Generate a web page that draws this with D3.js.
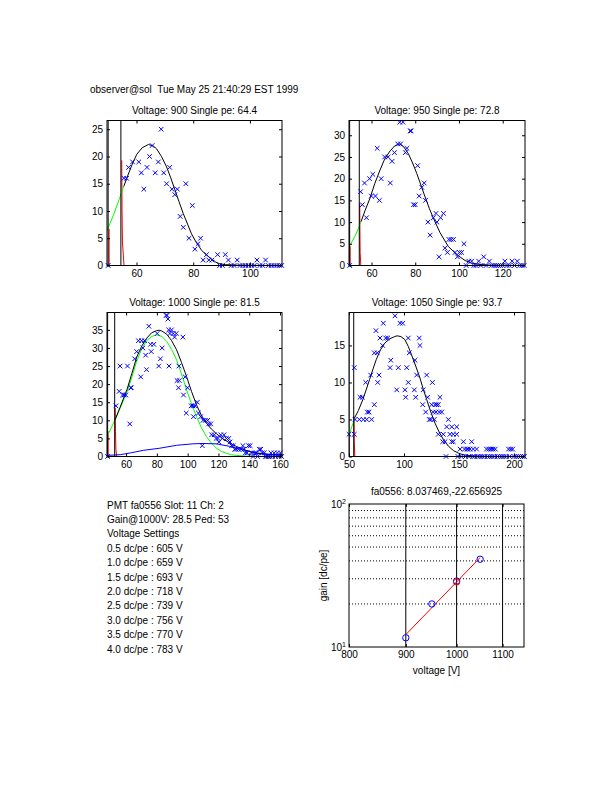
<!DOCTYPE html>
<html>
<head>
<meta charset="utf-8">
<script src="https://cdn.jsdelivr.net/npm/d3@7"></script>
<style>
  body { margin: 0; background: #fff; }
  svg { font-family: "Liberation Sans", Arial, Helvetica, sans-serif; font-size: 10px; }
</style>
</head>
<body>
<div id="chart"></div>
<script>
// ---- data ----
const headerText = "observer@sol  Tue May 25 21:40:29 EST 1999";
const titles = [
  "Voltage: 900 Single pe: 64.4",
  "Voltage: 950 Single pe: 72.8",
  "Voltage: 1000 Single pe: 81.5",
  "Voltage: 1050 Single pe: 93.7"
];

// histograms [adc, counts]
const hist900 = [[50,0],[55.6,16],[56.5,16],[57.2,18],[58.6,19],[60.8,19],[61.7,17],[62.6,14],[63.7,18],[64.6,20],
  [65.5,22],[66.6,17],[67.7,19],[68.7,25],[69.6,17],[70.6,15],[71.7,18],[72.5,14],[73.5,13],[74.4,14],[75.4,9],
  [76.5,7],[77.4,15],[78.5,5],[79.7,11],[80.6,3],[81.7,4],[82.6,5],[83.5,1],[84.7,2],[85.5,1],[86.6,1],[88.6,2],
  [89.3,0],[90.3,0],[91.3,2],[92.4,1],[93.4,0],[94.4,0],[95.5,1],[96.5,0],[97.5,0],[98.5,0],[99.5,0],[100.5,0],
  [101.5,0],[102.5,1],[103.5,0],[104.5,0],[105.5,1],[106.5,0],[107.5,0],[108.5,0],[109.5,0],[110.5,0],[111.2,0]];
const hist950 = [[50,0],[55,17],[55.8,14],[56.8,19],[57.7,11],[59.1,20],[59.9,16],[60.6,21],[61.8,16],[62.6,27],
  [63.6,15],[64.4,20],[66,25],[67.6,25],[68.6,19],[69.4,24],[70.5,26],[72,28],[72.9,33],[73.3,28],[74.4,33],
  [75.5,26],[76.2,27],[77.7,31],[78.1,31],[79.2,14],[80,14],[81.1,23],[81.8,16],[83,18],[84.1,19],[84.7,15],
  [85.8,10],[86.8,7],[88.3,11],[89.5,12],[89.9,10],[90.9,2],[91.6,11],[92.9,12],[93.6,4],[94.7,3],[95.4,6],
  [96.4,6],[97.5,6],[98.2,3],[99.3,2],[100.2,3],[101.2,3],[102.3,5],[103.3,0],[104.5,1],[105.8,1],[106.8,0],
  [107.8,0],[109,1],[110,0],[111.3,2],[112.4,0],[113.9,1],[115,0],[116,0],[117,0],[118,0],[119,0],[120,0],
  [121,1],[122,0],[123,0],[124.3,1],[125.4,0],[126.7,1],[127.8,0],[128.8,0],[129.8,0]];
const hist1000 = [[48,0],[53.4,14],[55.5,18],[56.1,25],[57.7,17],[58.7,17],[59.8,17],[60.9,25],[62.4,9],[63,19],
  [63.4,19],[65.6,27],[66.9,29],[68,32],[69.5,22],[70.1,32],[70.9,30],[72,32],[72.7,28],[73.3,24],[74.8,36],
  [75.9,31],[76.3,29],[78,31],[80.2,34],[81.2,25],[82.3,27],[83.4,30],[86,39],[86.6,39],[87.2,38],[87.7,35],
  [87.9,25],[88.5,34],[89.5,35],[90.6,34],[91.5,33],[92.6,34],[93.1,21],[94.1,19],[94.3,25],[94.6,21],[96.9,33],
  [97.3,17],[98.4,22],[99.1,12],[99.9,19],[102.3,14],[103.4,14],[103.8,11],[104.8,14],[106.3,15],[107,12],
  [108.5,11],[109.5,3],[110,10],[111.5,10],[113,10],[113.6,9],[115,9],[115.6,6],[117.3,6],[118.5,5],[119.7,5],
  [120.3,4],[121.5,6],[122.5,5],[123.6,6],[125.2,5],[126.7,5],[127.5,4],[128.5,3],[129.5,3],[130.6,2],[131.5,2],
  [133,2],[134.8,2],[135.9,3],[136.5,2],[137.5,1],[138.6,1],[139.5,3],[140.6,3],[141.5,1],[142.5,0],[143.5,1],
  [144.5,1],[145.5,0],[146.6,2],[147.5,2],[148.5,1],[149.8,1],[150.5,0],[151.5,0],[152.5,0],[153.5,0],[154.1,1],
  [155,0],[156.2,1],[157,0],[158.3,1],[159.3,0],[160.3,1],[161,0]];
const hist1050 = [[50,3],[54.8,3],[54.8,12],[55.5,5],[59.4,5],[60,8],[62.1,8],[63,5],[65.2,10],[66.1,5],[66.7,6],
  [68.2,6],[69.7,11],[70.6,5],[73,7],[73,14],[74.5,17],[75.7,14],[76.1,10],[77.3,11],[78.2,16],[80.6,15],
  [81.2,18],[83.4,16],[85.2,16],[87.3,12],[88,13],[91.8,19],[93.4,9],[94.8,12],[96.4,18],[98.8,18],[100.9,9],
  [101.5,8],[102.5,12],[103.9,16],[103.9,10],[104.8,14],[109.4,9],[110,13],[110.6,8],[111.5,11],[113.9,16],
  [114.5,15],[117,7],[117.5,9],[119.7,6],[120.6,11],[121.5,8],[123,5],[124.5,5],[125.2,7],[125.8,10],[126.6,6],
  [127.5,5],[128.2,7],[129,6],[129.7,7],[131.2,7],[131.2,3],[132.1,6],[132.7,8],[134.3,6],[135.2,2],[135.7,3],
  [137.3,2],[138.2,0],[138.8,4],[140.3,5],[141.8,3],[143.4,4],[143.4,2],[144.8,3],[144.8,2],[147.9,4],[147.9,3],
  [149,0],[151,1],[152,0],[154,2],[155,1],[156,0],[157,1],[158,1],[159,0],[160,1],[161.5,2],[162.5,0],[163,1],
  [164,0],[166,1],[167,0],[169,0],[171,0],[173,0],[175,1],[176,0],[177,1],[178,0],[179,1],[180,0],[181,1],
  [182,0],[183,1],[185,0],[187,0],[189,0],[191,0],[193,0],[195,1],[196,0],[197,1],[198.8,1],[200,0],[202,0],
  [204,0],[206,0],[208,0],[209.5,0]];

// total fit (black)
const fit900 = [[55.5,14.5],[57,16.6],[58.5,18.6],[60.1,20.4],[62,21.6],[64.2,22.2],[66,21.9],[67.1,21.4],
  [68.8,20],[70.6,18.1],[72,16.2],[73.6,13.8],[75,11.7],[76.5,9.5],[78,7.6],[79.4,5.8],[81,4.3],[83,2.75],
  [84.7,1.9],[86.5,1.2],[88,0.6],[89.4,0.3],[91.5,0.15],[93.6,0.1],[97,0.03],[111.3,0]];
const fit950 = [[55.2,10.1],[57,12.6],[59.3,15.5],[61.5,18.9],[63.9,22],[66,24.5],[68.5,26.4],[70.5,27.5],
  [72.8,28],[74.8,27.3],[76.8,25.8],[78.8,23.6],[80.7,21.2],[82.6,18.5],[84.5,15.8],[86.4,13.2],[88.3,10.9],
  [91.3,7.6],[95.1,4.4],[99,2.5],[102.8,1.15],[105.8,0.55],[109.6,0.24],[115,0.05],[130.2,0]];
const fit1000 = [[52.7,10],[56,13.5],[60.5,18.4],[63.8,23],[67,27.6],[70.2,30.5],[73.4,32.7],[76.6,34.2],
  [79.9,34.8],[81.5,34.9],[83.2,34.7],[86.4,33.8],[89.6,32],[92.8,29.5],[96,26],[99.3,22.1],[102.5,18],
  [105.7,14.3],[108.9,11.4],[112.2,9.2],[115.4,7.6],[118.7,6.3],[121.9,5.2],[125.1,4.3],[128.4,3.5],[131.6,2.8],
  [134.8,2.2],[138,1.7],[142,1.2],[146.6,0.9],[150.8,0.7],[155.2,0.55],[161.3,0.47]];
const fit1050 = [[55,5.2],[58.5,6.2],[62.6,7.7],[65.6,9],[68.7,10.4],[71.8,11.8],[74.8,13.1],[78.6,14.4],
  [82.4,15.3],[87,15.9],[91.6,16.2],[93.7,16.3],[97.2,16.2],[100.7,15.8],[103.8,14.9],[106.9,13.7],[110.7,12.2],
  [114.5,10.6],[117.5,9.1],[120.6,7.7],[124.4,6],[128.2,4.5],[132,3.3],[135.8,2.3],[140.3,1.4],[144.9,0.8],
  [149.5,0.45],[154.1,0.23],[162,0.08],[175,0],[210,0]];

// single pe component (green)
const one900 = [[49.6,6.4],[52,9.4],[54,12.3],[55.5,14.5]];
const one950 = [[49.7,4.4],[51,5.4],[52.5,6.8],[54,8.5],[55.2,10.1]];
const one1000 = [[47.6,5.5],[50,7.6],[52.7,10],[56,13.2],[60.5,17.7],[63.8,22],[67,26.5],[70.2,29.8],[73.4,32],
  [76.6,33.2],[79.9,33.6],[83.2,33.2],[86.4,31.8],[89.6,29.6],[92.8,26.7],[96,22.8],[99.3,18.4],[102.5,14.6],
  [105.7,11],[108.9,8],[112.2,5.5],[115.4,3.7],[118.7,2.3],[121.9,1.4],[125.1,0.9],[128.4,0.5],[131.6,0.3],
  [138,0.08],[146,0],[161.3,0]];
const one1050 = [[50,2.9],[51,3.3],[52.5,4],[54,4.6],[55,5.2]];

// double pe component (blue)
const two900 = [[49.6,0],[111.3,0]];
const two950 = [[49.7,0],[130.2,0]];
const two1000 = [[47.6,0.3],[56.2,0.5],[63,1],[71.2,1.7],[82,2.3],[92.8,3.1],[103.5,3.5],[110,3.6],[118.7,3.5],
  [127.3,2.8],[135.8,1.8],[144.5,0.9],[153.1,0.5],[161.3,0.3]];
const two1050 = [[50,0],[210,0]];

// pedestal (red), null = hidden part
const ped900 = [[50.35,0],[50.35,6.7],null,[54.8,19.3],[54.9,10],[55.05,4.3],[55.6,0],[111.3,0]];
const ped950 = [[50.2,0],[50.2,4.4],null,[54.6,14.3],[54.7,8],[54.8,3],[55.1,0],[130.2,0]];
const ped1000 = [[48.35,0],[48.35,7],null,[52.95,13.4],[53.1,7],[53.4,2],[53.9,0],[161.3,0]];
const ped1050 = [[50.05,0],[50.05,3],null,[54.55,5.4],[54.8,2],[55.3,0],[210,0]];

// cut lines [low, threshold]
const cuts900 = [50, 54.5];
const cuts950 = [50, 54.4];
const cuts1000 = [48, 52.6];
const cuts1050 = [50, 54.3];

const xTicks900 = [60, 80, 100];
const xTicks950 = [60, 80, 100, 120];
const xTicks1000 = [60, 80, 100, 120, 140, 160];
const xTicks1050 = [50, 100, 150, 200];
const yTicks900 = [0, 5, 10, 15, 20, 25];
const yTicks950 = [0, 5, 10, 15, 20, 25, 30];
const yTicks1000 = [0, 5, 10, 15, 20, 25, 30, 35];
const yTicks1050 = [0, 5, 10, 15];

// gain vs voltage
const gainTitle = "fa0556: 8.037469,-22.656925";
const gainVolts = [900, 950, 1000, 1050];
const gainValues = [11.6, 20.0, 28.9, 41.1];
const refVolt = [1000];
const refGain = [28.5];
const fitVolts = [900, 1050];
const fitGains = [12.2, 42.2];
const gainXTicks = [800, 900, 1000, 1100];
const gainVLines = [900, 1000, 1100];
const gainHLines = [20, 30, 40, 50, 60, 70, 80, 90];

const infoLines = [
  "PMT fa0556 Slot: 11 Ch: 2",
  "Gain@1000V: 28.5 Ped: 53",
  "Voltage Settings",
  "0.5 dc/pe : 605 V",
  "1.0 dc/pe : 659 V",
  "1.5 dc/pe : 693 V",
  "2.0 dc/pe : 718 V",
  "2.5 dc/pe : 739 V",
  "3.0 dc/pe : 756 V",
  "3.5 dc/pe : 770 V",
  "4.0 dc/pe : 783 V"
];

// ---- layout ----
const W = 612, H = 792;
const panels = [
  { title: titles[0], hist: hist900, fit: fit900, one: one900, two: two900, ped: ped900, cuts: cuts900,
    xDomain: [49.6, 111.3], yMax: 26.6, xTicks: xTicks900, yTicks: yTicks900, box: { x: 107, y: 120.5, w: 175, h: 145 } },
  { title: titles[1], hist: hist950, fit: fit950, one: one950, two: two950, ped: ped950, cuts: cuts950,
    xDomain: [49.7, 130.2], yMax: 33.4, xTicks: xTicks950, yTicks: yTicks950, box: { x: 349, y: 120.5, w: 176, h: 145 } },
  { title: titles[2], hist: hist1000, fit: fit1000, one: one1000, two: two1000, ped: ped1000, cuts: cuts1000,
    xDomain: [47.6, 161.3], yMax: 39.8, xTicks: xTicks1000, yTicks: yTicks1000, box: { x: 107, y: 312.5, w: 175, h: 144 } },
  { title: titles[3], hist: hist1050, fit: fit1050, one: one1050, two: two1050, ped: ped1050, cuts: cuts1050,
    xDomain: [50, 210], yMax: 19.45, xTicks: xTicks1050, yTicks: yTicks1050, box: { x: 349, y: 312.5, w: 176, h: 144 } }
];

const svg = d3.select("#chart").append("svg")
  .attr("width", W)
  .attr("height", H);

svg.append("text")
  .attr("x", 90)
  .attr("y", 92.5)
  .style("white-space", "pre")
  .text(headerText);

// inward ticks on all four sides, labels only bottom/left
function drawFrame(g, x, y, box, xTicks, yTicks, fmtX, fmtY) {
  g.append("g")
    .attr("transform", `translate(0,${box.h})`)
    .call(d3.axisBottom(x).tickValues(xTicks).tickSizeInner(-3).tickSizeOuter(0).tickPadding(4).tickFormat(fmtX));
  g.append("g")
    .call(d3.axisTop(x).tickValues(xTicks).tickSizeInner(-3).tickSizeOuter(0).tickFormat(""));
  g.append("g")
    .call(d3.axisLeft(y).tickValues(yTicks).tickSizeInner(-3).tickSizeOuter(0).tickPadding(4).tickFormat(fmtY));
  g.append("g")
    .attr("transform", `translate(${box.w},0)`)
    .call(d3.axisRight(y).tickValues(yTicks).tickSizeInner(-3).tickSizeOuter(0).tickFormat(""));
  g.selectAll(".domain").remove();
  g.selectAll(".tick line").attr("stroke", "#000");
  g.selectAll(".tick text")
    .attr("fill", "#000")
    .style("font-family", "'Liberation Sans', Arial, sans-serif")
    .style("font-size", "10px");
  g.append("rect")
    .attr("width", box.w)
    .attr("height", box.h)
    .attr("fill", "none")
    .attr("stroke", "#000")
    .attr("stroke-width", 1);
}

panels.forEach((p, i) => {
  const b = p.box;
  const g = svg.append("g").attr("transform", `translate(${b.x},${b.y})`);
  const x = d3.scaleLinear().domain(p.xDomain).range([0, b.w]);
  const y = d3.scaleLinear().domain([0, p.yMax]).range([b.h, 0]);

  svg.append("clipPath").attr("id", "clip" + i)
    .append("rect").attr("width", b.w).attr("height", b.h);

  svg.append("text")
    .attr("x", b.x + b.w / 2)
    .attr("y", b.y - 7)
    .attr("text-anchor", "middle")
    .text(p.title);

  const plot = g.append("g").attr("clip-path", `url(#clip${i})`);
  const line = d3.line().defined(d => d !== null).x(d => x(d[0])).y(d => y(d[1]));
  const s = 2.3;

  // histogram markers
  g.append("g").selectAll("path")
    .data(p.hist.filter(d => d[0] >= p.xDomain[0] && d[0] <= p.xDomain[1] && d[1] <= p.yMax))
    .join("path")
    .attr("d", d => {
      const cx = x(d[0]), cy = y(d[1]);
      return `M${cx - s},${cy - s}L${cx + s},${cy + s}M${cx - s},${cy + s}L${cx + s},${cy - s}`;
    })
    .attr("stroke", "#0000ff")
    .attr("stroke-width", 1)
    .attr("fill", "none");

  // fit components
  [[p.ped, "#ff0000"], [p.one, "#00ff00"], [p.two, "#0000ff"], [p.fit, "#000"]].forEach(([data, col]) => {
    plot.append("path")
      .attr("d", line(data))
      .attr("fill", "none")
      .attr("stroke", col)
      .attr("stroke-width", 1);
  });

  // pedestal and threshold cuts
  plot.selectAll("line.cut")
    .data(p.cuts)
    .join("line")
    .attr("class", "cut")
    .attr("x1", d => x(d)).attr("x2", d => x(d))
    .attr("y1", y(0)).attr("y2", 0)
    .attr("stroke", "#000")
    .attr("stroke-width", 1);

  drawFrame(g, x, y, b, p.xTicks, p.yTicks, d3.format("d"), d3.format("d"));
});

// ---- text block ----
svg.append("g").selectAll("text")
  .data(infoLines)
  .join("text")
  .attr("x", 107)
  .attr("y", (d, i) => 508.5 + i * 14.4)
  .text(d => d);

// ---- gain panel ----
{
  const b = { x: 349, y: 504, w: 175, h: 143 };
  const g = svg.append("g").attr("transform", `translate(${b.x},${b.y})`);
  const x = d3.scaleLog().domain([800, 1150]).range([0, b.w]);
  const y = d3.scaleLog().domain([10, 100]).range([b.h, 0]);

  svg.append("text")
    .attr("x", b.x + b.w / 2)
    .attr("y", b.y - 9)
    .attr("text-anchor", "middle")
    .text(gainTitle);

  g.selectAll("line.hgrid")
    .data(gainHLines)
    .join("line")
    .attr("class", "hgrid")
    .attr("x1", 0).attr("x2", b.w)
    .attr("y1", d => y(d)).attr("y2", d => y(d))
    .attr("stroke", "#000")
    .attr("stroke-dasharray", "1,2");

  g.selectAll("line.vgrid")
    .data(gainVLines)
    .join("line")
    .attr("class", "vgrid")
    .attr("x1", d => x(d)).attr("x2", d => x(d))
    .attr("y1", 0).attr("y2", b.h)
    .attr("stroke", "#000");

  g.append("path")
    .attr("d", d3.line().x(d => x(d[0])).y(d => y(d[1]))(d3.zip(fitVolts, fitGains)))
    .attr("fill", "none")
    .attr("stroke", "#ff0000")
    .attr("stroke-width", 1);

  g.selectAll("circle.meas")
    .data(d3.zip(gainVolts, gainValues))
    .join("circle")
    .attr("class", "meas")
    .attr("cx", d => x(d[0])).attr("cy", d => y(d[1]))
    .attr("r", 3.2)
    .attr("fill", "none")
    .attr("stroke", "#0000ff");

  g.selectAll("circle.ref")
    .data(d3.zip(refVolt, refGain))
    .join("circle")
    .attr("class", "ref")
    .attr("cx", d => x(d[0])).attr("cy", d => y(d[1]))
    .attr("r", 3.2)
    .attr("fill", "none")
    .attr("stroke", "#ff0000");

  drawFrame(g, x, y, b, gainXTicks, [], d3.format("d"), "");

  // decade labels with superscripts
  [10, 100].forEach((v, k) => {
    const t = g.append("text")
      .attr("x", -3)
      .attr("y", y(v) + 3.5)
      .attr("text-anchor", "end");
    t.append("tspan").text("10");
    t.append("tspan").attr("dy", -4).style("font-size", "7px").text(k === 0 ? "1" : "2");
  });

  g.append("text")
    .attr("x", b.w / 2)
    .attr("y", b.h + 27)
    .attr("text-anchor", "middle")
    .text("voltage [V]");

  g.append("text")
    .attr("transform", `translate(-22,${b.h / 2}) rotate(-90)`)
    .attr("text-anchor", "middle")
    .text("gain [dc/pe]");
}
</script>
</body>
</html>
